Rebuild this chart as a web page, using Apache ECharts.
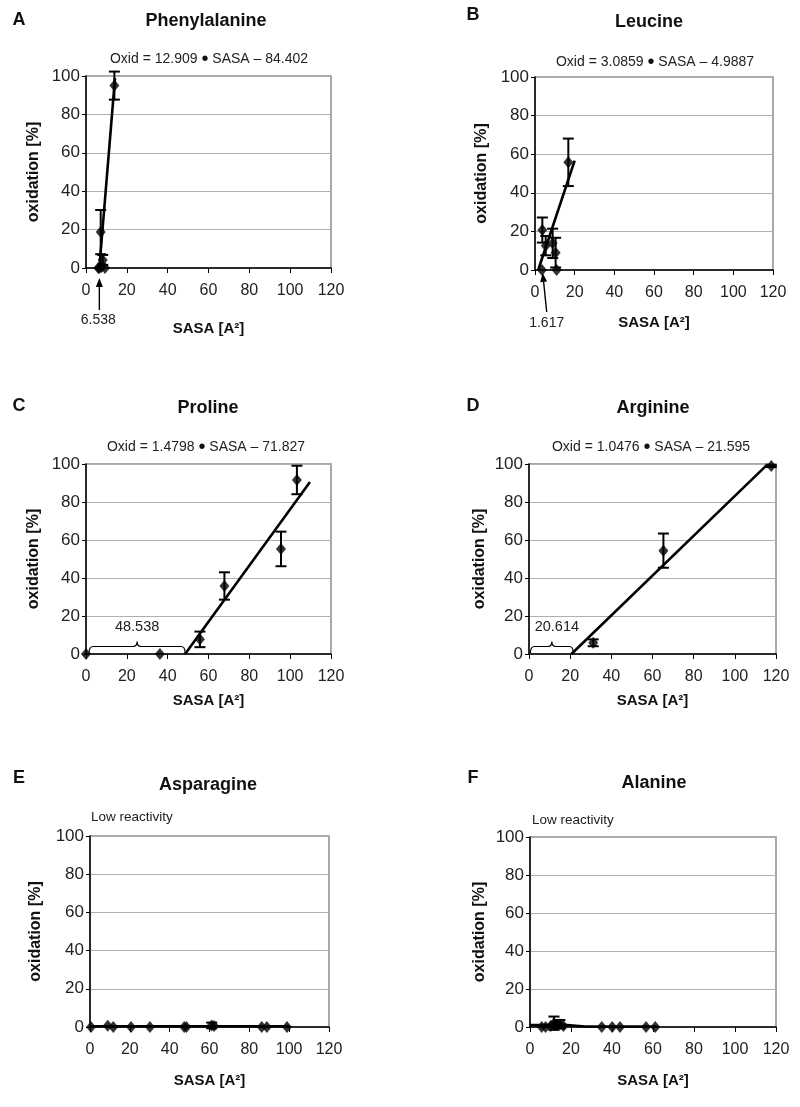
<!DOCTYPE html>
<html><head><meta charset="utf-8">
<script src="https://cdn.jsdelivr.net/npm/echarts@6/dist/echarts.min.js"></script>
<style>html,body{margin:0;padding:0;background:#fff}#c{width:800px;height:1107px}</style>
</head><body><div id="c"></div><script>
const FONT = "'Liberation Sans', Arial, sans-serif";

// ---- tick labels ----
const xTicks = [0, 20, 40, 60, 80, 100, 120];
const yTicks = [0, 20, 40, 60, 80, 100];

// ---- A: Phenylalanine ----
const pheX   = [6.0, 6.6, 7.2, 7.6, 8.2, 9.3, 13.9];
const pheY   = [0, 0, 18.7, 0.5, 4.2, 0, 95.0];
const pheErr = [0, 0, 11.5, 0, 2.6, 0, 7.3];
const pheTrend = [[6.538, 0], [14.2, 98.9]];

// ---- B: Leucine ----
const leuX   = [3.7, 5.4, 8.9, 10.4, 10.9, 3.5, 16.8];
const leuY   = [20.7, 12.6, 13.8, 9.0, 0, 0, 55.8];
const leuErr = [6.5, 5.0, 7.6, 7.7, 0, 0, 12.3];
const leuTrend = [[1.617, 0], [20, 56.7]];

// ---- C: Proline ----
const proX   = [0, 36.2, 55.8, 67.8, 95.5, 103.3];
const proY   = [0, 0, 7.7, 35.8, 55.3, 91.6];
const proErr = [0, 0, 4.1, 7.2, 9.1, 7.5];
const proTrend = [[48.538, 0], [109.7, 90.5]];

// ---- D: Arginine ----
const argX   = [31.2, 65.3, 117.7];
const argY   = [5.9, 54.4, 98.9];
const argErr = [1.8, 9.0, 0.5];
const argTrend = [[20.614, 0], [116, 99.9]];

// ---- E: Asparagine ----
const asnX   = [0.5, 8.9, 11.7, 20.6, 30.1, 47.3, 48.4, 61.1, 62.3, 86.2, 88.8, 98.9];
const asnY   = [0, 0.6, 0, 0, 0, 0, 0, 0.8, 0.5, 0, 0, 0];
const asnErr = [0, 0, 0, 0, 0, 0, 0, 1.5, 0, 0, 0, 0];
const asnTrend = [[0, 0.4], [100, 0.4]];

// ---- F: Alanine ----
const alaX   = [5.7, 7.6, 10.1, 11.7, 12.8, 14.6, 16.3, 35.0, 40.1, 43.9, 56.6, 61.1];
const alaY   = [0, 0, 0.5, 2.0, 1.0, 1.5, 0.5, 0, 0, 0, 0, 0];
const alaErr = [0, 0, 0, 3.5, 1.5, 2.2, 0, 0, 0, 0, 0, 0];
const alaTrend = [[0, 1], [18, 1], [27, 0.3], [62, 0.3]];

const panels = [
  {letter:'A', title:'Phenylalanine', x:pheX, y:pheY, err:pheErr, trend:pheTrend,
   eq:['Oxid = 12.909 ', ' SASA \u2013 84.402'], note:null,
   grid:{left:86, top:76, width:245, height:192}, letterPos:[19,20], titlePos:[206,21], eqPos:[209,59],
   xGap:53, yGap:44,
   arrow:{x:6.538, label:'6.538', tip:[0,10], tail:[0,42], lab:[-1,52]}},
  {letter:'B', title:'Leucine', x:leuX, y:leuY, err:leuErr, trend:leuTrend,
   eq:['Oxid = 3.0859 ', ' SASA \u2013 4.9887'], note:null,
   grid:{left:535, top:77, width:238, height:193}, letterPos:[473,15], titlePos:[649,22], eqPos:[655,62],
   xGap:45, yGap:45,
   arrow:{x:1.617, label:'1.617', tip:[4.5,3], tail:[8.5,42], lab:[8.5,53]}},
  {letter:'C', title:'Proline', x:proX, y:proY, err:proErr, trend:proTrend,
   eq:['Oxid = 1.4798 ', ' SASA \u2013 71.827'], note:null,
   grid:{left:86, top:464, width:245, height:190}, letterPos:[19,406], titlePos:[208,408], eqPos:[206,447],
   xGap:39, yGap:44,
   brace:{x0:1.5, x1:48.538, label:'48.538', labDx:0}},
  {letter:'D', title:'Arginine', x:argX, y:argY, err:argErr, trend:argTrend,
   eq:['Oxid = 1.0476 ', ' SASA \u2013 21.595'], note:null,
   grid:{left:529, top:464, width:247, height:190}, letterPos:[473,406], titlePos:[653,408], eqPos:[651,447],
   xGap:39, yGap:41,
   brace:{x0:0.7, x1:21.5, label:'20.614', labDx:5}},
  {letter:'E', title:'Asparagine', x:asnX, y:asnY, err:asnErr, trend:asnTrend,
   eq:null, note:'Low reactivity', notePos:[91,817],
   grid:{left:90, top:836, width:239, height:191}, letterPos:[19,778], titlePos:[208,785], eqPos:null,
   xGap:46, yGap:46},
  {letter:'F', title:'Alanine', x:alaX, y:alaY, err:alaErr, trend:alaTrend,
   eq:null, note:'Low reactivity', notePos:[532,820],
   grid:{left:530, top:837, width:246, height:190}, letterPos:[473,778], titlePos:[654,783], eqPos:null,
   xGap:46, yGap:42}
];

const grids = [], xAxes = [], yAxes = [], series = [], graphics = [];

function errRender(params, api) {
  const x = api.value(0), lo = api.value(1), hi = api.value(2);
  const t = api.coord([x, hi]), b = api.coord([x, lo]);
  const w = 5.5, st = {stroke:'#000', lineWidth:2};
  return {type:'group', children:[
    {type:'line', shape:{x1:t[0], y1:t[1], x2:b[0], y2:b[1]}, style:st},
    {type:'line', shape:{x1:t[0]-w, y1:t[1], x2:t[0]+w, y2:t[1]}, style:st},
    {type:'line', shape:{x1:b[0]-w, y1:b[1], x2:b[0]+w, y2:b[1]}, style:st}
  ]};
}

panels.forEach((p, i) => {
  grids.push(Object.assign({show:true, borderColor:'#8c8c8c', borderWidth:1.5, backgroundColor:'#fff'}, p.grid));
  xAxes.push({
    type:'value', gridIndex:i, min:xTicks[0], max:xTicks[xTicks.length-1], interval:xTicks[1]-xTicks[0],
    name:'SASA [A\u00b2]', nameLocation:'middle', nameGap:p.xGap,
    nameTextStyle:{fontFamily:FONT, fontSize:15, fontWeight:'bold', color:'#111'},
    axisLine:{show:true, onZero:false, lineStyle:{color:'#000', width:1.5}},
    axisTick:{show:true, inside:false, length:5, lineStyle:{color:'#000', width:1}},
    axisLabel:{fontFamily:FONT, fontSize:16, color:'#222', margin:15},
    splitLine:{show:false}
  });
  yAxes.push({
    type:'value', gridIndex:i, min:yTicks[0], max:yTicks[yTicks.length-1], interval:yTicks[1]-yTicks[0],
    name:'oxidation [%]', nameLocation:'middle', nameGap:p.yGap, nameRotate:90,
    nameTextStyle:{fontFamily:FONT, fontSize:16, fontWeight:'bold', color:'#111'},
    axisLine:{show:true, onZero:false, lineStyle:{color:'#000', width:1.5}},
    axisTick:{show:true, inside:false, length:4, lineStyle:{color:'#000', width:1}},
    axisLabel:{fontFamily:FONT, fontSize:17, color:'#222', margin:6},
    splitLine:{show:true, lineStyle:{color:'#b0b0b0', width:1}}
  });

  const pts = p.x.map((v, k) => [v, p.y[k]]);
  const errs = p.x.map((v, k) => [v, p.y[k] - p.err[k], p.y[k] + p.err[k]]).filter((d, k) => p.err[k] > 0);

  series.push({type:'line', xAxisIndex:i, yAxisIndex:i, data:p.trend, showSymbol:false, symbol:'none',
    lineStyle:{color:'#000', width:2.6}, silent:true, animation:false, z:3, clip:false});
  series.push({type:'custom', xAxisIndex:i, yAxisIndex:i, data:errs, renderItem:errRender,
    silent:true, animation:false, z:4, clip:false});
  series.push({type:'scatter', xAxisIndex:i, yAxisIndex:i, data:pts, symbol:'diamond', symbolSize:[10,12],
    itemStyle:{color:'#000'}, silent:true, animation:false, z:5, clip:false});

  if (p.arrow) {
    const a = p.arrow;
    series.push({type:'custom', xAxisIndex:i, yAxisIndex:i, data:[[a.x, 0]], silent:true, animation:false, clip:false, z:6,
      renderItem:(params, api) => {
        const c = api.coord([api.value(0), 0]);
        const tx = c[0]+a.tip[0], ty = c[1]+a.tip[1], bx = c[0]+a.tail[0], by = c[1]+a.tail[1];
        const ang = Math.atan2(ty-by, tx-bx), hl = 9, hw = 3.5;
        const hx = tx - hl*Math.cos(ang), hy = ty - hl*Math.sin(ang);
        const px = -Math.sin(ang)*hw, py = Math.cos(ang)*hw;
        return {type:'group', children:[
          {type:'line', shape:{x1:bx, y1:by, x2:hx, y2:hy}, style:{stroke:'#000', lineWidth:1.4}},
          {type:'polygon', shape:{points:[[tx,ty],[hx+px,hy+py],[hx-px,hy-py]]}, style:{fill:'#000'}},
          {type:'text', style:{text:a.label, x:c[0]+a.lab[0], y:c[1]+a.lab[1], align:'center', verticalAlign:'middle',
            fontFamily:FONT, fontSize:14, fill:'#222'}}
        ]};
      }});
  }
  if (p.brace) {
    const b = p.brace;
    series.push({type:'custom', xAxisIndex:i, yAxisIndex:i, data:[[b.x0, b.x1]], silent:true, animation:false, clip:false, z:6,
      renderItem:(params, api) => {
        const l = api.coord([api.value(0), 0]), r = api.coord([api.value(1), 0]);
        const yb = l[1]-1, ym = l[1]-7.5, yp = l[1]-12.5, rr = 4;
        const x0 = l[0], x1 = r[0], xm = (x0+x1)/2;
        const path = `M${x0},${yb} Q${x0},${ym} ${x0+rr},${ym} L${xm-rr},${ym} Q${xm},${ym} ${xm},${yp} ` +
                     `Q${xm},${ym} ${xm+rr},${ym} L${x1-rr},${ym} Q${x1},${ym} ${x1},${yb}`;
        return {type:'group', children:[
          {type:'path', shape:{pathData:path}, style:{stroke:'#000', lineWidth:1.2, fill:null}},
          {type:'text', style:{text:b.label, x:xm+b.labDx, y:l[1]-27, align:'center', verticalAlign:'middle',
            fontFamily:FONT, fontSize:14.5, fill:'#222'}}
        ]};
      }});
  }

  graphics.push({type:'text', x:p.letterPos[0], y:p.letterPos[1], style:{text:p.letter, align:'center', verticalAlign:'middle',
    fontFamily:FONT, fontSize:18, fontWeight:'bold', fill:'#111'}});
  graphics.push({type:'text', x:p.titlePos[0], y:p.titlePos[1], style:{text:p.title, align:'center', verticalAlign:'middle',
    fontFamily:FONT, fontSize:18, fontWeight:'bold', fill:'#111'}});
  if (p.eq) graphics.push({type:'text', x:p.eqPos[0], y:p.eqPos[1], style:{
    text:'{a|' + p.eq[0] + '}{b|\u2022}{a|' + p.eq[1] + '}', align:'center', verticalAlign:'middle',
    rich:{a:{fontFamily:FONT, fontSize:14, fill:'#222', color:'#222'}, b:{fontFamily:FONT, fontSize:20, fill:'#111', color:'#111'}}}});
  if (p.note) graphics.push({type:'text', x:p.notePos[0], y:p.notePos[1], style:{text:p.note, align:'left', verticalAlign:'middle',
    fontFamily:FONT, fontSize:13.5, fill:'#222'}});
});

const chart = echarts.init(document.getElementById('c'), null, {renderer:'canvas'});
chart.setOption({
  backgroundColor:'#fff', animation:false,
  grid:grids, xAxis:xAxes, yAxis:yAxes, series:series, graphic:graphics
});
</script></body></html>
